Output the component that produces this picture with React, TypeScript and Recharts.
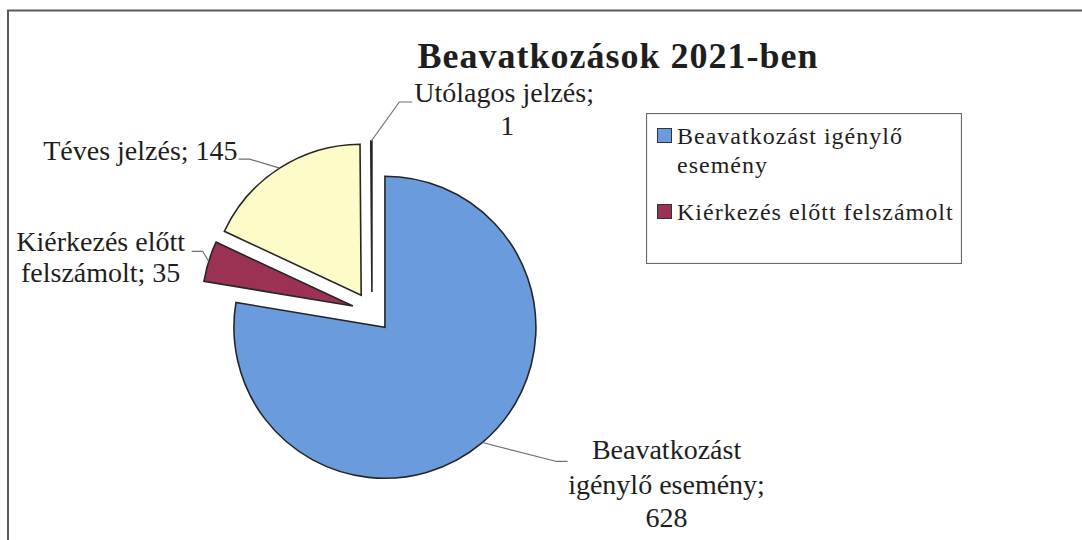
import React from "react";
import { PieChart, Pie, Cell, Legend } from "recharts";

const categories = [
  "Beavatkozást igénylő esemény",
  "Kiérkezés előtt felszámolt",
  "Téves jelzés",
  "Utólagos jelzés",
];
const counts = [628, 35, 145, 1];
const sliceColors = ["#6a9bdc", "#9c3253", "#fdfcc8", "#bfe3f2"];

// only the first two categories fit into the legend box of the original
const legendIndexes = [0, 1];
const legendLines = [["Beavatkozást igénylő", "esemény"], ["Kiérkezés előtt felszámolt"]];

// how many words of "name; value" go on each label line
const labelWraps = [[1, 2, 1], [2, 2], [3], [2, 1]];

const title = "Beavatkozások 2021-ben";

const data = categories.map((name, i) => ({ name, value: counts[i] }));

const CENTER_X = 372;
const CENTER_Y = 312;
const RADIUS = 151;
const EXPLODE = 20;
const FONT = "'Liberation Serif', 'Times New Roman', serif";

// leader line and text positions, relative to the slice's outer edge point
const labelLayout = [
  { knee: [74, 19], end: [85, 19], anchor: "middle", xs: [184, 184, 184], ys: [17, 52, 85] },
  { knee: [-6, -10], end: [-17, -10], anchor: "middle", xs: [-108, -108], ys: [-10, 21] },
  { knee: [-30, -9], end: [-41, -9], anchor: "end", xs: [-42], ys: [-8] },
  { knee: [28, -39], end: [41, -39], anchor: "start", xs: [43, 129], ys: [-39, -6] },
];

const total = counts.reduce((a, b) => a + b, 0);
const explodeOffsets = counts.map((v, i) => {
  const before = counts.slice(0, i).reduce((a, b) => a + b, 0);
  const mid = ((before + v / 2) / total) * 2 * Math.PI; // clockwise from 12 o'clock
  return { dx: EXPLODE * Math.sin(mid), dy: -EXPLODE * Math.cos(mid) };
});

const labelLines = (i: number) => {
  const words = `${categories[i]}; ${counts[i]}`.split(" ");
  const out: string[] = [];
  let pos = 0;
  labelWraps[i].forEach((n) => {
    out.push(words.slice(pos, pos + n).join(" "));
    pos += n;
  });
  return out;
};

const renderLabel = (k: number) => (props: any) => {
  if (props.index !== k) return null;
  const { cx, cy, midAngle, outerRadius } = props;
  const rad = (-midAngle * Math.PI) / 180;
  const ex = cx + outerRadius * Math.cos(rad);
  const ey = cy + outerRadius * Math.sin(rad);
  const l = labelLayout[k];
  const pts = [
    [ex, ey],
    [ex + l.knee[0], ey + l.knee[1]],
    [ex + l.end[0], ey + l.end[1]],
  ];
  return (
    <g>
      <polyline
        points={pts.map((p) => p.join(",")).join(" ")}
        fill="none"
        stroke="#6f6f6f"
        strokeWidth={1.2}
      />
      {labelLines(k).map((line, j) => (
        <text
          key={j}
          x={ex + l.xs[j]}
          y={ey + l.ys[j]}
          textAnchor={l.anchor as any}
          fontFamily={FONT}
          fontSize={28}
          fill="#1e1e1e"
        >
          {line}
        </text>
      ))}
    </g>
  );
};

const LegendBox = () => (
  <svg width={316} height={151} style={{ display: "block" }}>
    <rect x={0.5} y={0.5} width={315} height={150} fill="#fff" stroke="#6a6a6a" strokeWidth={1.2} />
    {legendIndexes.map((idx, n) => {
      const top = n === 0 ? 16 : 92;
      return (
        <g key={idx}>
          <rect x={11.5} y={top - 0.5} width={14} height={14} fill={sliceColors[idx]} stroke="#333" strokeWidth={1} />
          {legendLines[n].map((line, j) => (
            <text
              key={j}
              x={31}
              y={top + 15 + j * 29}
              fontFamily={FONT}
              fontSize={24}
              letterSpacing={1}
              fill="#1e1e1e"
            >
              {line}
            </text>
          ))}
        </g>
      );
    })}
  </svg>
);

export default function App() {
  return (
    <div style={{ position: "relative", width: 1082, height: 540, background: "#fff", overflow: "hidden" }}>
      <style>{"body{margin:0;overflow:hidden;background:#fff}"}</style>
      <PieChart width={1082} height={540} margin={{ top: 0, right: 0, bottom: 0, left: 0 }}>
        {counts.map((_, k) => (
          <Pie
            key={k}
            data={data}
            dataKey="value"
            nameKey="name"
            cx={CENTER_X + explodeOffsets[k].dx}
            cy={CENTER_Y + explodeOffsets[k].dy}
            outerRadius={RADIUS}
            startAngle={90}
            endAngle={-270}
            isAnimationActive={false}
            labelLine={false}
            label={renderLabel(k)}
            legendType="none"
          >
            {data.map((_, i) => (
              <Cell
                key={i}
                fill={i === k ? sliceColors[i] : "none"}
                stroke={i === k ? "#262626" : "none"}
                strokeWidth={1.6}
              />
            ))}
          </Pie>
        ))}
        <Legend
          verticalAlign="bottom"
          content={() => <LegendBox />}
          wrapperStyle={{ left: 646, top: 113, bottom: "auto", width: 316, height: 151 }}
        />
      </PieChart>
      <svg
        width={1082}
        height={540}
        style={{ position: "absolute", left: 0, top: 0, pointerEvents: "none" }}
      >
        <polyline points="8,560 8,10.5 1090,10.5" fill="none" stroke="#5a5a5a" strokeWidth={2} />
        <text
          x={618}
          y={68}
          textAnchor="middle"
          fontFamily={FONT}
          fontSize={36}
          fontWeight="bold"
          letterSpacing={1}
          fill="#1e1e1e"
        >
          {title}
        </text>
      </svg>
    </div>
  );
}
